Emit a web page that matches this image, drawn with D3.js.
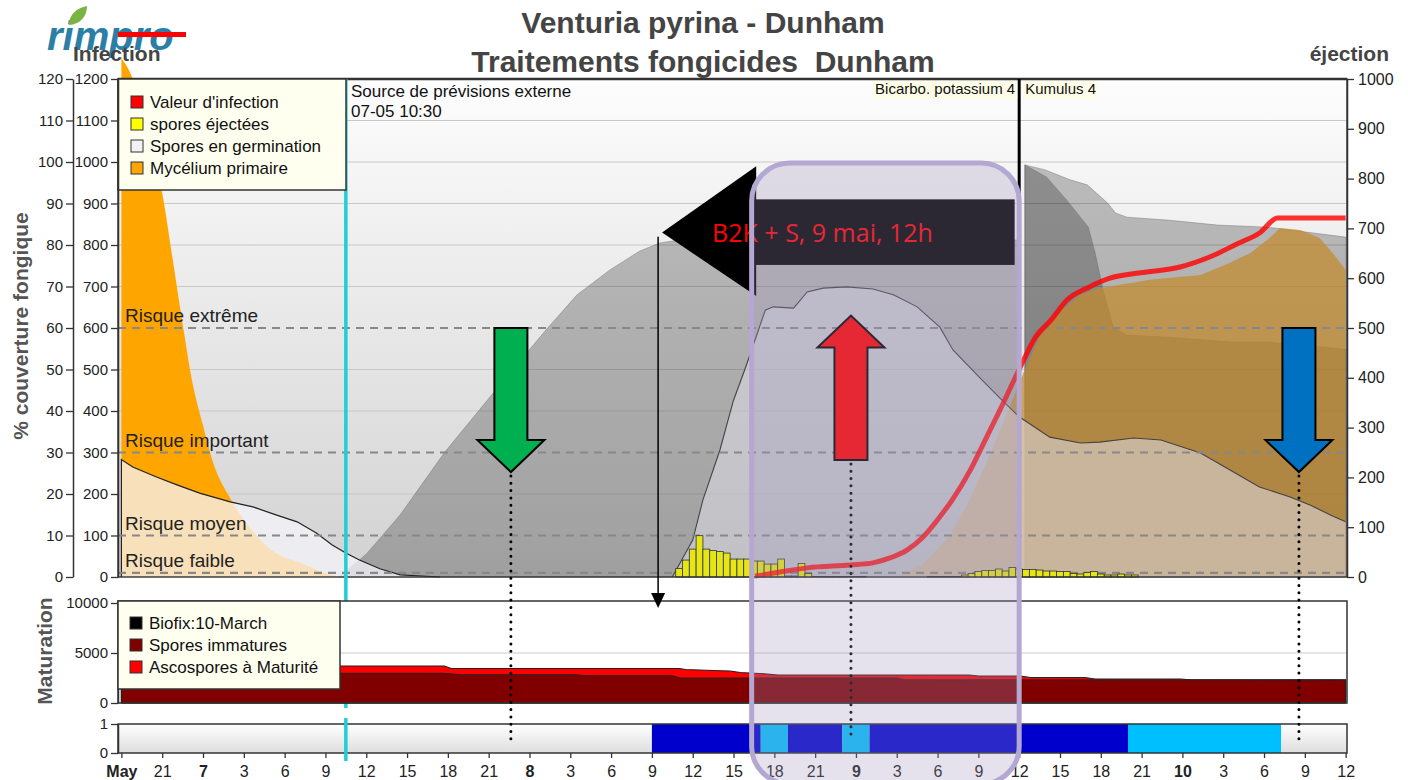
<!DOCTYPE html>
<html>
<head>
<meta charset="utf-8">
<script src="https://cdn.jsdelivr.net/npm/d3@7"></script>
<style>
  body { margin: 0; background: #fff; }
  svg { font-family: "Liberation Sans", Arial, sans-serif; }
</style>
</head>
<body>
<div id="chart"></div>
<script>
const parse = d3.timeParse("%m-%d %H:%M");

// --- data (times are May, month-day hour:minute) ---

// Mycélium primaire, first event (0-1200 scale)
const myceliumA = [["05-06 18:00",1250],["05-06 18:50",1200],["05-06 19:45",1085],["05-06 20:30",995],["05-06 21:00",925],
  ["05-06 21:45",770],["05-06 22:30",610],["05-06 23:10",478],["05-07 00:00",365],["05-07 00:45",275],["05-07 02:00",190],
  ["05-07 02:45",150],["05-07 03:40",110],["05-07 05:10",62],["05-07 07:10",34],["05-07 09:30",5],["05-07 10:25",0]];

// Mycélium primaire, second event (0-1200 scale)
const myceliumB = [["05-09 03:00",0],["05-09 04:55",30],["05-09 06:55",100],["05-09 08:25",190],["05-09 09:55",300],
  ["05-09 11:25",420],["05-09 12:25",500],["05-09 13:30",580],["05-09 15:00",640],["05-09 16:30",680],["05-09 17:55",696],
  ["05-09 21:35",716],["05-10 01:20",728],["05-10 03:30",757],["05-10 05:00",781],["05-10 06:25",817],["05-10 07:10",841],
  ["05-10 08:40",836],["05-10 10:05",817],["05-10 11:10",776],["05-10 12:00",740]];

// Spores en germination (0-1200 scale)
const germA = [["05-06 18:00",0],["05-06 18:00",283],["05-06 18:50",265],["05-06 20:35",241],["05-06 22:05",222],
  ["05-06 23:45",202],["05-07 02:00",181],["05-07 03:40",169],["05-07 05:25",149],["05-07 06:55",133],["05-07 08:20",106],
  ["05-07 09:30",77],["05-07 10:30",58],["05-07 11:30",41],["05-07 13:00",20],["05-07 14:30",5],["05-07 17:25",0]];
const germB = [["05-08 10:30",0],["05-08 12:00",89],["05-08 12:45",186],["05-08 14:00",306],["05-08 15:00",426],
  ["05-08 15:50",500],["05-08 16:35",571],["05-08 17:20",643],["05-08 17:55",651],["05-08 19:25",648],["05-08 20:25",687],
  ["05-08 21:35",696],["05-08 23:20",699],["05-09 01:15",694],["05-09 02:45",680],["05-09 04:30",651],["05-09 06:10",602],
  ["05-09 07:08",547],["05-09 09:07",480],["05-09 10:35",431],["05-09 12:00",386],["05-09 14:15",337],["05-09 16:30",323],
  ["05-09 17:55",325],["05-09 20:25",335],["05-09 22:25",330],["05-10 01:20",299],["05-10 03:30",258],["05-10 05:40",217],
  ["05-10 07:55",193],["05-10 09:25",173],["05-10 10:55",149],["05-10 12:00",133]];

// grey risk envelopes (0-1200 scale)
const greyA = [["05-07 10:00",0],["05-07 12:00",55],["05-07 14:30",150],["05-07 17:45",300],["05-07 21:30",450],
  ["05-08 01:20",600],["05-08 03:30",680],["05-08 05:55",740],["05-08 08:05",785],["05-08 09:35",805],
  ["05-08 11:00",812],["05-09 12:00",812],["05-09 12:05",0]];
const greyB = [["05-09 12:25",993],["05-09 13:55",981],["05-09 15:45",957],["05-09 17:00",945],["05-09 18:30",901],
  ["05-09 19:05",877],["05-09 19:55",867],["05-09 22:55",860],["05-10 02:35",848],["05-10 06:15",843],["05-10 12:00",819]];
const greyC = [["05-09 12:25",993],["05-09 14:00",964],["05-09 15:30",908],["05-09 17:05",843],["05-09 17:35",781],
  ["05-09 18:10",692],["05-09 18:55",602],["05-09 19:55",583],["05-09 22:55",578],["05-10 03:45",566],["05-10 06:15",566],
  ["05-10 12:00",549]];

// Valeur d'infection (0-120 scale)
const infection = [["05-08 16:35",0.2],["05-08 18:25",1.2],["05-08 20:25",2.2],["05-08 23:35",2.9],["05-09 01:15",3.4],
  ["05-09 02:30",4.6],["05-09 03:45",6.5],["05-09 04:55",9.6],["05-09 06:10",14.5],["05-09 07:05",18.6],["05-09 08:25",25.8],
  ["05-09 09:30",33],["05-09 10:35",40.2],["05-09 12:05",50.6],["05-09 13:10",57.6],["05-09 14:20",61.9],["05-09 15:30",66.7],
  ["05-09 17:10",69.9],["05-09 18:40",72],["05-09 20:55",73.3],["05-09 23:50",74.7],["05-10 02:00",77.1],["05-10 04:10",80.5],
  ["05-10 05:40",82.9],["05-10 07:00",86.5],["05-10 12:00",86.5]];

// spores éjectées, half-hour bars from 05-08 11:00 (0-1000 scale)
const ejectStart = "05-08 11:00";
const ejectValues = [17,34,56,83,56,53,51,48,36,36,36,32,32,26,26,36,2,2,27,7,
  1,1,1,1,1,1,1,1, 0,0,0,0,0,0,0,0,0, 1,1,1,1,1,
  4,7,11,13,13,16,12,19,16,15,15,14,12,12,11,11,7,6,9,11,6,4,4,6,4,4];

// maturation (0-10000)
const maturationTotal = [["05-06 18:00",3700],["05-07 17:45",3700],["05-07 18:15",3450],["05-08 11:00",3450],
  ["05-08 11:30",3350],["05-08 13:30",3250],["05-08 14:45",3200],["05-08 15:30",3050],["05-08 16:55",2950],
  ["05-08 18:15",2800],["05-09 08:20",2800],["05-09 09:00",2700],["05-09 12:05",2700],["05-09 12:50",2550],
  ["05-09 16:50",2550],["05-09 17:35",2400],["05-09 23:50",2400],["05-10 00:35",2320],["05-10 12:00",2320]];
const immatures = [["05-06 18:00",2970],["05-07 17:45",2970],["05-07 18:55",2830],["05-08 03:20",2830],
  ["05-08 04:05",2730],["05-08 10:30",2730],["05-08 11:05",2500],["05-09 03:00",2500],["05-09 03:35",2320],
  ["05-10 12:00",2300]];

// leaf wetness strip
const wetness = [["05-08 09:00","05-08 17:00","wet"],["05-08 17:00","05-08 19:00","rain"],["05-08 19:00","05-08 23:00","wet"],
  ["05-08 23:00","05-09 01:00","rain"],["05-09 01:00","05-09 20:00","wet"],["05-09 20:00","05-10 07:15","rain"]];
const wetColors = { wet: "#0000cc", rain: "#00bfff" };

const riskLevels = [600, 300, 100, 10];
const riskLabels = ["Risque extrême", "Risque important", "Risque moyen", "Risque faible"];

const legendLabels = ["Valeur d'infection", "spores éjectées", "Spores en germination", "Mycélium primaire"];
const legendColors = ["#ff0000", "#ffff00", "#f2f2f2", "#ffa500"];
const matLegendLabels = ["Biofix:10-March", "Spores immatures", "Ascospores à Maturité"];
const matLegendColors = ["#000000", "#800000", "#ff0000"];

const treatments = [["05-09 12:00", "Bicarbo. potassium 4", "Kumulus 4"]];
const nowTime = "05-07 10:30";

// hand-drawn annotations
const blockArrows = [["05-07 22:38", 60, 25.3, "#00b050"], ["05-08 23:38", 28.2, 63, "#ff0000"], ["05-10 08:34", 60, 25.3, "#0070c0"]];
const flagNote = { tip: "05-08 09:45", base: "05-08 16:40", bandEnd: "05-09 11:40", text: "B2K + S, 9 mai, 12h" };
const focusWindow = ["05-08 16:20", "05-09 12:00"];

// --- layout ---
const W = 1408, H = 780;
const pL = 118, pR = 1347, pT = 79, pB = 577;
const svg = d3.select("#chart").append("svg").attr("width", W).attr("height", H);

const x = d3.scaleTime().domain([parse("05-06 17:45"), parse("05-10 12:06")]).range([pL, pR]);
const yPct = d3.scaleLinear().domain([0, 120]).range([pB, pT]);
const yInf = d3.scaleLinear().domain([0, 1200]).range([pB, pT]);
const yEj = d3.scaleLinear().domain([0, 1000]).range([pB, pT]);
const yMat = d3.scaleLinear().domain([0, 10000]).range([703, 603]);
const yStrip = d3.scaleLinear().domain([0, 1]).range([753, 724]);
const fmt = d3.format("d");

const defs = svg.append("defs");
const bg = defs.append("linearGradient").attr("id", "bg").attr("x1", 0).attr("y1", 0).attr("x2", 0).attr("y2", 1);
bg.append("stop").attr("offset", "0%").attr("stop-color", "#fdfdfd");
bg.append("stop").attr("offset", "100%").attr("stop-color", "#d2d2d2");
const sg = defs.append("linearGradient").attr("id", "sg").attr("x1", 0).attr("y1", 0).attr("x2", 0).attr("y2", 1);
sg.append("stop").attr("offset", "0%").attr("stop-color", "#ffffff");
sg.append("stop").attr("offset", "100%").attr("stop-color", "#dedede");

// plot background + grid
svg.append("rect").attr("x", pL).attr("y", pT).attr("width", pR - pL).attr("height", pB - pT).attr("fill", "url(#bg)");
svg.append("g").selectAll("line")
  .data(d3.range(100, 1200, 100).filter(v => !riskLevels.includes(v)))
  .join("line")
  .attr("x1", pL).attr("x2", pR)
  .attr("y1", d => yInf(d)).attr("y2", d => yInf(d))
  .attr("stroke", "#c8c8c8").attr("stroke-width", 1.2);

const areaInf = d3.area().x(d => x(parse(d[0]))).y0(pB).y1(d => yInf(d[1]));
const lineInf = d3.line().x(d => x(parse(d[0]))).y(d => yInf(d[1]));

svg.append("path").datum(myceliumA).attr("d", areaInf.curve(d3.curveMonotoneX)).attr("fill", "#ffa500");
areaInf.curve(d3.curveLinear);

[greyA, greyB, greyC].forEach(s => {
  svg.append("path").datum(s).attr("d", areaInf)
    .attr("fill", "#000").attr("fill-opacity", 0.24)
    .attr("stroke", "#666").attr("stroke-opacity", 0.5).attr("stroke-width", 0.8);
});

svg.append("path").datum(myceliumB).attr("d", areaInf).attr("fill", "#c4892c").attr("fill-opacity", 0.72);

svg.append("path").datum(germA).attr("d", areaInf).attr("fill", "#f6f5fb").attr("fill-opacity", 0.74);
svg.append("path").datum(germA).attr("d", lineInf).attr("fill", "none").attr("stroke", "#222").attr("stroke-width", 1.2);
svg.append("path").datum(germB).attr("d", areaInf).attr("fill", "#dcdce6").attr("fill-opacity", 0.55);
svg.append("path").datum(germB).attr("d", lineInf).attr("fill", "none").attr("stroke", "#444").attr("stroke-width", 1.1);

// risk lines
const risk = svg.append("g");
risk.selectAll("line").data(riskLevels).join("line")
  .attr("x1", pL).attr("x2", pR)
  .attr("y1", d => yInf(d)).attr("y2", d => yInf(d))
  .attr("stroke", "#888").attr("stroke-width", 2.2).attr("stroke-dasharray", "8,6");
risk.selectAll("text").data(riskLevels).join("text")
  .attr("x", pL + 7).attr("y", d => yInf(d) - 6)
  .attr("font-size", 19).attr("fill", "#222")
  .text((d, i) => riskLabels[i]);

// ejected spores
const halfHour = x(d3.timeMinute.offset(parse(ejectStart), 30)) - x(parse(ejectStart));
svg.append("g").selectAll("rect")
  .data(ejectValues.map((v, i) => [d3.timeMinute.offset(parse(ejectStart), 30 * i), v]).filter(d => d[1] > 0))
  .join("rect")
  .attr("x", d => x(d[0]) - halfHour / 2)
  .attr("width", halfHour)
  .attr("y", d => yEj(d[1]))
  .attr("height", d => pB - yEj(d[1]))
  .attr("fill", "#e6e617").attr("stroke", "#333").attr("stroke-width", 0.8);

// infection value
svg.append("path").datum(infection)
  .attr("d", d3.line().x(d => x(parse(d[0]))).y(d => yPct(d[1])).curve(d3.curveMonotoneX))
  .attr("fill", "none").attr("stroke", "#ff0000").attr("stroke-opacity", 0.8).attr("stroke-width", 5);

// frame
svg.append("rect").attr("x", pL).attr("y", pT).attr("width", pR - pL).attr("height", pB - pT)
  .attr("fill", "none").attr("stroke", "#333").attr("stroke-width", 1.4);
svg.append("line").attr("x1", pL).attr("x2", pR).attr("y1", pT).attr("y2", pT).attr("stroke", "#333").attr("stroke-width", 2.5);

// treatments
treatments.forEach(([t, before, after]) => {
  const tx = x(parse(t));
  svg.append("line").attr("x1", tx).attr("x2", tx).attr("y1", pT).attr("y2", pB).attr("stroke", "#000").attr("stroke-width", 3);
  const a = svg.append("g");
  const t1 = a.append("text").attr("x", tx - 4).attr("y", pT + 15).attr("text-anchor", "end").attr("font-size", 15).attr("fill", "#111").text(before);
  const t2 = a.append("text").attr("x", tx + 6).attr("y", pT + 15).attr("font-size", 15).attr("fill", "#111").text(after);
  [t1, t2].forEach(tt => {
    const b = tt.node().getBBox();
    a.insert("rect", "text").attr("x", b.x - 2).attr("y", pT + 2).attr("width", b.width + 4).attr("height", 18).attr("fill", "#fefde8");
  });
});

// now line
const nx = x(parse(nowTime));
svg.append("line").attr("x1", nx).attr("x2", nx).attr("y1", pT).attr("y2", 708).attr("stroke", "#1fcfd6").attr("stroke-width", 3.5);

// main legend
const leg = svg.append("g");
leg.append("rect").attr("x", pL).attr("y", pT).attr("width", 228).attr("height", 111).attr("fill", "#fffff0").attr("stroke", "#333").attr("stroke-width", 1.5);
legendLabels.forEach((l, i) => {
  const yy = 102 + i * 22;
  leg.append("rect").attr("x", 131).attr("y", yy - 6).attr("width", 12).attr("height", 12).attr("fill", legendColors[i]).attr("stroke", "#333");
  leg.append("text").attr("x", 150).attr("y", yy + 6).attr("font-size", 17).attr("fill", "#111").text(l);
});
svg.append("text").attr("x", 351).attr("y", 97).attr("font-size", 17).attr("fill", "#111").text("Source de prévisions externe");
svg.append("text").attr("x", 351).attr("y", 117).attr("font-size", 17).attr("fill", "#111").text("07-05 10:30");

// axes
function styleAxis(g, size) {
  g.attr("font-family", "Liberation Sans, Arial, sans-serif").attr("font-size", size);
  g.selectAll("text").attr("fill", "#222");
  g.selectAll("line").attr("stroke", "#333").attr("stroke-width", 1.3);
  g.select(".domain").attr("stroke", "#333").attr("stroke-width", 1.5);
}
svg.append("g").attr("transform", "translate(73,0)")
  .call(d3.axisLeft(yPct).tickValues(d3.range(0, 121, 10)).tickFormat(fmt).tickSize(7).tickSizeOuter(0).tickPadding(3))
  .call(g => styleAxis(g, 15));
svg.append("g").attr("transform", `translate(${pL},0)`)
  .call(d3.axisLeft(yInf).tickValues(d3.range(0, 1201, 100)).tickFormat(fmt).tickSize(7).tickSizeOuter(0).tickPadding(3))
  .call(g => styleAxis(g, 15));
svg.append("g").attr("transform", `translate(${pR},0)`)
  .call(d3.axisRight(yEj).tickValues(d3.range(0, 1001, 100)).tickFormat(fmt).tickSize(7).tickSizeOuter(0).tickPadding(4))
  .call(g => styleAxis(g, 16));

svg.append("text").attr("transform", "translate(28,326) rotate(-90)").attr("text-anchor", "middle")
  .attr("font-size", 21).attr("font-weight", "bold").attr("fill", "#555").text("% couverture fongique");
svg.append("text").attr("x", 1389).attr("y", 61).attr("text-anchor", "end").attr("font-size", 21).attr("font-weight", "bold").attr("fill", "#444").text("éjection");

// maturation panel
svg.append("rect").attr("x", pL).attr("y", 601).attr("width", pR - pL).attr("height", 102).attr("fill", "#fff");
svg.append("line").attr("x1", pL).attr("x2", pR).attr("y1", yMat(5000)).attr("y2", yMat(5000)).attr("stroke", "#ccc").attr("stroke-width", 1.2);
const areaMat = d3.area().x(d => x(parse(d[0]))).y0(yMat(0)).y1(d => yMat(d[1]));
svg.append("path").datum(maturationTotal).attr("d", areaMat).attr("fill", "#ff0000").attr("stroke", "#222").attr("stroke-width", 1.2);
svg.append("path").datum(immatures).attr("d", areaMat).attr("fill", "#800000").attr("stroke", "#222").attr("stroke-width", 1);
svg.append("rect").attr("x", pL).attr("y", 601).attr("width", pR - pL).attr("height", 102).attr("fill", "none").attr("stroke", "#333").attr("stroke-width", 1.5);
svg.append("g").attr("transform", `translate(${pL},0)`)
  .call(d3.axisLeft(yMat).tickValues([0, 5000, 10000]).tickFormat(fmt).tickSize(7).tickSizeOuter(0).tickPadding(3))
  .call(g => styleAxis(g, 15));
const mleg = svg.append("g");
mleg.append("rect").attr("x", pL).attr("y", 601).attr("width", 222).attr("height", 88).attr("fill", "#fffff0").attr("stroke", "#333").attr("stroke-width", 1.5);
matLegendLabels.forEach((l, i) => {
  const yy = 623 + i * 22;
  mleg.append("rect").attr("x", 130).attr("y", yy - 6).attr("width", 12).attr("height", 12).attr("fill", matLegendColors[i]).attr("stroke", "#333");
  mleg.append("text").attr("x", 149).attr("y", yy + 6).attr("font-size", 17).attr("fill", "#111").text(l);
});
svg.append("text").attr("transform", "translate(52,651) rotate(-90)").attr("text-anchor", "middle")
  .attr("font-size", 21).attr("font-weight", "bold").attr("fill", "#555").text("Maturation");

// wetness strip
svg.append("rect").attr("x", pL).attr("y", 724).attr("width", pR - pL).attr("height", 29).attr("fill", "url(#sg)");
svg.append("g").selectAll("rect").data(wetness).join("rect")
  .attr("x", d => x(parse(d[0]))).attr("width", d => x(parse(d[1])) - x(parse(d[0])))
  .attr("y", yStrip(1)).attr("height", yStrip(0) - yStrip(1))
  .attr("fill", d => wetColors[d[2]]);
svg.append("rect").attr("x", pL).attr("y", 724).attr("width", pR - pL).attr("height", 29).attr("fill", "none").attr("stroke", "#333").attr("stroke-width", 1.5);
svg.append("g").attr("transform", `translate(${pL},0)`)
  .call(d3.axisLeft(yStrip).tickValues([0, 1]).tickFormat(fmt).tickSize(7).tickSizeOuter(0).tickPadding(3))
  .call(g => styleAxis(g, 15));
svg.append("line").attr("x1", nx).attr("x2", nx).attr("y1", 718).attr("y2", 761).attr("stroke", "#1fcfd6").attr("stroke-width", 3.5);

const tickTimes = d3.range(0, 91, 3).map(h => d3.timeHour.offset(parse("05-06 18:00"), h));
svg.append("g").attr("transform", "translate(0,753)")
  .call(d3.axisBottom(x).tickValues(tickTimes).tickSize(5).tickSizeOuter(0).tickPadding(8)
    .tickFormat((d, i) => i === 0 ? "May" : d.getHours() === 0 ? d.getDate() : d.getHours()))
  .call(g => styleAxis(g, 16))
  .call(g => g.select(".domain").remove())
  .call(g => g.selectAll("text").attr("font-weight", (d, i) => (i === 0 || d.getHours() === 0) ? "bold" : "normal"));

// --- annotations ---
const dots = svg.append("g");
blockArrows.forEach(([t, from, to, col]) => {
  const cx = x(parse(t));
  const y0 = yPct(from), y1 = yPct(to);
  const dir = y1 > y0 ? 1 : -1;
  const headBase = y1 - dir * 32;
  const pts = [[cx - 16.5, y0], [cx + 16.5, y0], [cx + 16.5, headBase], [cx + 33.5, headBase], [cx, y1],
    [cx - 33.5, headBase], [cx - 16.5, headBase]];
  svg.append("path").attr("d", d3.line()(pts) + "Z").attr("fill", col).attr("stroke", "#000").attr("stroke-width", 2);
  dots.append("line").attr("x1", cx).attr("x2", cx).attr("y1", Math.max(y0, y1) + 4).attr("y2", 740)
    .attr("stroke", "#000").attr("stroke-width", 3).attr("stroke-linecap", "round").attr("stroke-dasharray", "0,7.3");
});

// flag callout
const fTip = x(parse(flagNote.tip)), fBase = x(parse(flagNote.base)), fEnd = x(parse(flagNote.bandEnd));
svg.append("line").attr("x1", fTip - 4).attr("x2", fTip - 4).attr("y1", yPct(82)).attr("y2", 597).attr("stroke", "#000").attr("stroke-width", 1.5);
svg.append("path").attr("d", d3.line()([[fTip - 11, 593], [fTip + 3, 593], [fTip - 4, 608]]) + "Z").attr("fill", "#000");
svg.append("path").attr("d", d3.line()([[fTip, yPct(83)], [fBase, yPct(99)], [fBase, yPct(67.7)]]) + "Z").attr("fill", "#000");
svg.append("rect").attr("x", fBase - 2).attr("y", yPct(91)).attr("width", fEnd - fBase + 2).attr("height", yPct(75.2) - yPct(91)).attr("fill", "#000");
svg.append("text").attr("x", fTip + 50).attr("y", yPct(80.7)).attr("font-family", "Open Sans, sans-serif").attr("font-size", 25).attr("fill", "#ff0000").text(flagNote.text);

// focus window
const b0 = x(parse(focusWindow[0])), b1 = x(parse(focusWindow[1]));
svg.append("rect").attr("x", b0).attr("y", 163).attr("width", b1 - b0).attr("height", 621).attr("rx", 38)
  .attr("fill", "rgb(159,148,193)").attr("fill-opacity", 0.27).attr("stroke", "#b4a8d2").attr("stroke-width", 5);

// title + logo
svg.append("text").attr("x", 703).attr("y", 33).attr("text-anchor", "middle").attr("font-size", 30).attr("font-weight", "bold").attr("fill", "#444").text("Venturia pyrina - Dunham");
svg.append("text").attr("x", 703).attr("y", 72).attr("text-anchor", "middle").attr("font-size", 30).attr("font-weight", "bold").attr("fill", "#444").attr("xml:space", "preserve").text("Traitements fongicides  Dunham");

svg.append("text").attr("x", 47).attr("y", 50).attr("font-size", 40).attr("font-weight", "bold").attr("font-style", "italic").attr("fill", "#2b7fa6").text("rimpro");
svg.append("path").attr("transform", "translate(68,6)").attr("d", "M1,19 C1,8 9,2 19,0 C19,11 12,18 1,19 Z").attr("fill", "#7cb342");
svg.append("rect").attr("x", 118).attr("y", 32).attr("width", 68).attr("height", 5).attr("fill", "#ff0000");
svg.append("text").attr("x", 73).attr("y", 61).attr("font-size", 21).attr("font-weight", "bold").attr("fill", "#444").text("Infection");
</script>
</body>
</html>
